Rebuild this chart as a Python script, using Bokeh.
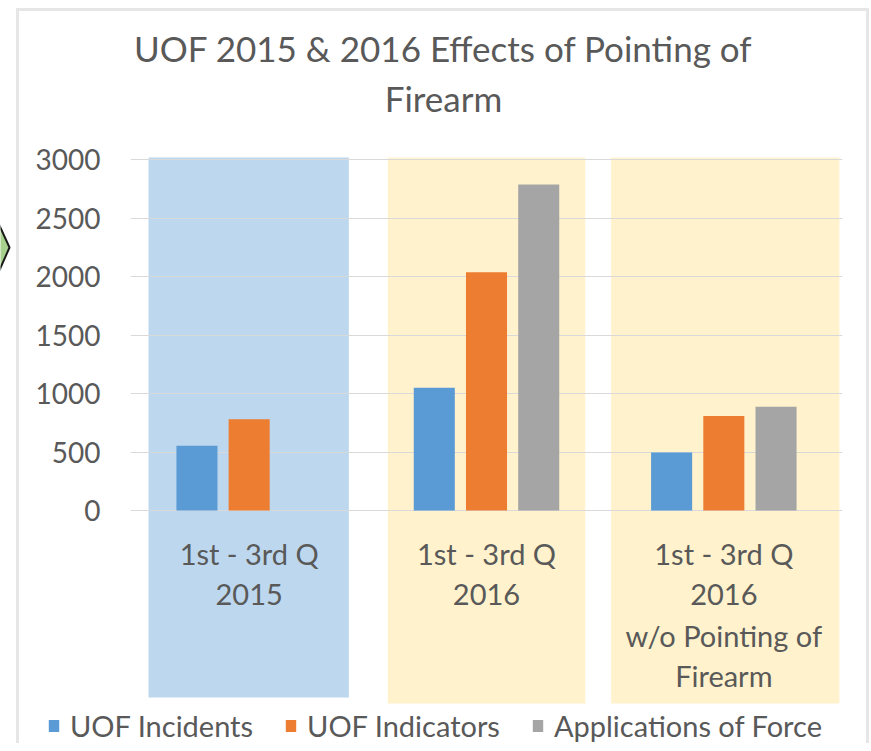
from bokeh.plotting import figure
from bokeh.layouts import column, row
from bokeh.models import ColumnDataSource, FactorRange, Range1d, FixedTicker, Label, Legend, LegendItem
from bokeh.transform import dodge
from bokeh.core.properties import value
from bokeh.embed import file_html
from bokeh.resources import INLINE

# ---------------- data ----------------
categories = ["1st - 3rd Q 2015", "1st - 3rd Q 2016", "1st - 3rd Q 2016 w/o Pointing of Firearm"]
category_label_lines = [
    ["1st - 3rd Q", "2015"],
    ["1st - 3rd Q", "2016"],
    ["1st - 3rd Q", "2016", "w/o Pointing of", "Firearm"],
]
series_names = ["UOF Incidents", "UOF Indicators", "Applications of Force"]
uof_incidents = [555, 1050, 497]
uof_indicators = [782, 2040, 808]
applications_of_force = [float("nan"), 2790, 888]
y_ticks = [0, 500, 1000, 1500, 2000, 2500, 3000]
title_lines = ["UOF 2015 & 2016 Effects of Pointing of", "Firearm"]

# ---------------- styles ----------------
FONT = "Lato"
TEXT = "#595959"
colors = ["#5B9BD5", "#ED7D31", "#A5A5A5"]
region_colors = ["#BDD7EE", "#FFF2CC", "#FFF2CC"]
region_left_off = [-0.424, -0.416, -0.475]
region_right_off = [0.42, 0.416, 0.487]
region_bottom = [-1600, -1652, -1652]
region_top = 3021
BORDER = "3px solid #E6E6E6"

W = 847
p = figure(width=W, height=694, output_backend="svg", toolbar_location=None,
           x_range=FactorRange(factors=categories, range_padding=0),
           y_range=Range1d(-1669, 4271),
           min_border_left=111, min_border_right=24, min_border_top=0, min_border_bottom=0,
           frame_align=False)
p.outline_line_color = None
p.background_fill_color = "white"
p.border_fill_color = "white"
p.xaxis.visible = False
p.xgrid.visible = False

p.yaxis.ticker = FixedTicker(ticks=y_ticks)
p.yaxis.axis_line_color = None
p.yaxis.major_tick_line_color = None
p.yaxis.minor_tick_line_color = None
p.yaxis.major_tick_out = 0
p.yaxis.major_label_standoff = 30
p.yaxis.major_label_text_font = FONT
p.yaxis.major_label_text_font_size = "28px"
p.yaxis.major_label_text_color = TEXT
p.ygrid.grid_line_color = "#D9D9D9"
p.ygrid.grid_line_width = 1

# background regions
for i, cat in enumerate(categories):
    src = ColumnDataSource(dict(cat=[cat], b=[region_bottom[i]], t=[region_top]))
    r = p.quad(left=dodge("cat", region_left_off[i], range=p.x_range),
               right=dodge("cat", region_right_off[i], range=p.x_range),
               bottom="b", top="t", source=src,
               fill_color=region_colors[i], line_color=None)
    r.level = "image"

# bars
series = [uof_incidents, uof_indicators, applications_of_force]
offsets = [-0.22, 0.0, 0.22]
sources = []
for vals, col, off in zip(series, colors, offsets):
    src = ColumnDataSource(dict(cat=categories, val=vals))
    sources.append(src)
    p.vbar(x=dodge("cat", off, range=p.x_range), top="val", bottom=0, width=0.173,
           source=src, fill_color=col, line_color=None)

# category labels
lab_x, lab_y, lab_t = [], [], []
for cat, lines in zip(categories, category_label_lines):
    for j, t in enumerate(lines):
        lab_x.append(cat)
        lab_y.append(-368 - j * 349)
        lab_t.append(t)
p.text(x="x", y="y", text="t", source=ColumnDataSource(dict(x=lab_x, y=lab_y, t=lab_t)),
       text_font=value(FONT), text_font_size="29px", text_color=TEXT,
       text_align="center", text_baseline="middle")

# title
for t, y in zip(title_lines, [3955, 3527]):
    p.add_layout(Label(x=313, x_units="screen", y=y, y_units="data", text=t,
                       text_font=FONT, text_font_size="35px", text_color=TEXT,
                       text_align="center", text_baseline="middle"))

# legend strip (full width); its zero-width bars only carry the legend swatches
lg = figure(width=W, height=38, output_backend="svg", toolbar_location=None,
            x_range=FactorRange(factors=categories), y_range=Range1d(-2, -1),
            min_border_left=0, min_border_right=0, min_border_top=0, min_border_bottom=0,
            frame_align=False)
lg.axis.visible = False
lg.grid.visible = False
lg.outline_line_color = None
lg.background_fill_color = "white"
lg.border_fill_color = "white"
items = []
for name, col, src in zip(series_names, colors, sources):
    r = lg.vbar(x="cat", top="val", bottom=0, width=0, source=src,
                fill_color=col, line_color=None)
    items.append(LegendItem(label=name, renderers=[r]))
legend = Legend(items=items, orientation="horizontal", location=(28, 0),
                label_text_font=FONT, label_text_font_size="29px", label_text_color=TEXT,
                glyph_width=13, glyph_height=15, label_standoff=10, spacing=31,
                padding=0, margin=0, border_line_color=None, background_fill_alpha=0)
lg.add_layout(legend)

# left-edge strip with the tip of a neighbouring arrow shape
edge = figure(width=16, height=300, output_backend="svg", toolbar_location=None,
              x_range=Range1d(0, 16), y_range=Range1d(300, 0),
              min_border_left=0, min_border_right=0, min_border_top=0, min_border_bottom=0,
              frame_align=False)
edge.axis.visible = False
edge.grid.visible = False
edge.outline_line_color = None
edge.background_fill_color = "white"
edge.border_fill_color = "white"
edge.patch(x=[-6, -6, 9, -6], y=[200, 214, 247, 281], fill_color="#A9D18E",
           line_color="#1a1a1a", line_width=2)

chart = column(p, lg, spacing=0, margin=(8, 0, 0, 0),
               styles={"border-top": BORDER, "border-left": BORDER, "border-right": BORDER})
layout = row(edge, chart, spacing=0)
open("out.html", "w").write(file_html(layout, INLINE))
